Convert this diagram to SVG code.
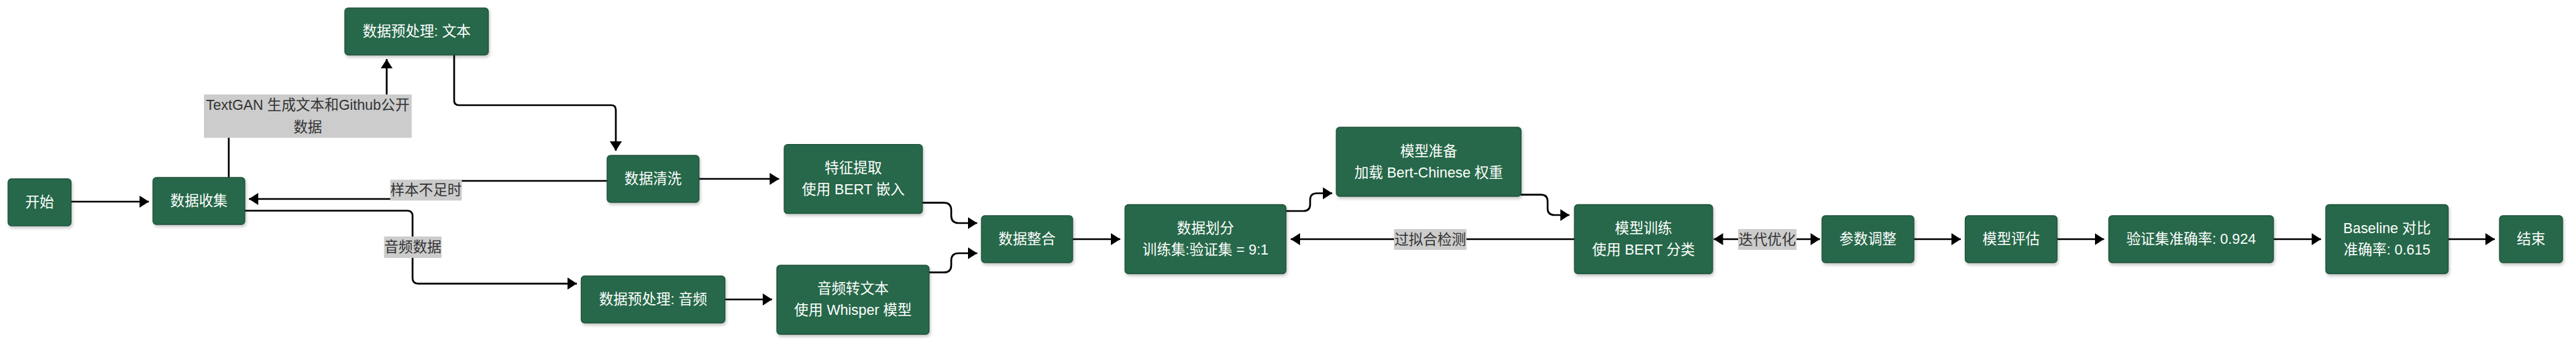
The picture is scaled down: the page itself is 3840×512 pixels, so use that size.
<svg xmlns="http://www.w3.org/2000/svg" width="3840" height="512" viewBox="0 0 3840 512">
<style>
.node rect{fill:#276749;stroke:#1f5139;stroke-width:1.3;filter:url(#sh)}
.node text{fill:#ffffff;font-family:"Liberation Sans","Noto Sans CJK SC",sans-serif;font-size:21.33px;text-anchor:middle;dominant-baseline:central}
.edges path{fill:none;stroke:#000;stroke-width:2.67}
.lbl rect{fill:#cccccc}
.lbl text{fill:#333333;font-family:"Liberation Sans","Noto Sans CJK SC",sans-serif;font-size:21.33px;text-anchor:middle;dominant-baseline:central}
</style>
<defs>
<filter id="sh" x="-10%" y="-10%" width="130%" height="140%">
<feDropShadow dx="1.5" dy="3" stdDeviation="2" flood-color="#000" flood-opacity="0.22"/>
</filter>
<marker id="ae" markerUnits="userSpaceOnUse" markerWidth="16" markerHeight="20" refX="14" refY="9" orient="auto">
<path d="M0,0 L14,9 L0,18 z" fill="#000"/>
</marker>
<marker id="as" markerUnits="userSpaceOnUse" markerWidth="16" markerHeight="20" refX="0" refY="9" orient="auto">
<path d="M14,0 L0,9 L14,18 z" fill="#000"/>
</marker>
</defs>
<rect width="3840" height="512" fill="#ffffff"/>
<g class="edges">
<path d="M105.7,301 H222" marker-end="url(#ae)"/>
<path d="M341,265 V180 Q341,174 347,174 H570 Q576.4,174 576.4,168 V88.3" marker-end="url(#ae)"/>
<path d="M677,82 V150 Q677,157 684,157 H911 Q918,157 918,164 V225" marker-end="url(#ae)"/>
<path d="M905,270 H635 V297 H371" marker-end="url(#ae)"/>
<path d="M365,314.5 H607 Q615,314.5 615,322.5 V415.3 Q615,423.3 623,423.3 H860" marker-end="url(#ae)"/>
<path d="M1042,267 H1161.4" marker-end="url(#ae)"/>
<path d="M1080.7,447 H1151" marker-end="url(#ae)"/>
<path d="M1374.6,302.7 H1407 Q1418,302.7 1418,314 V322 Q1418,333 1429,333 H1456.7" marker-end="url(#ae)"/>
<path d="M1385,406.7 H1407 Q1418,406.7 1418,395.7 V389 Q1418,378 1429,378 H1456.7" marker-end="url(#ae)"/>
<path d="M1599,357 H1670" marker-end="url(#ae)"/>
<path d="M1917,315 H1943 Q1953,315 1953,305 V298.5 Q1953,288.5 1963,288.5 H1986" marker-end="url(#ae)"/>
<path d="M2267,290.7 H2297 Q2307,290.7 2307,300.7 V311 Q2307,321 2317,321 H2339.5" marker-end="url(#ae)"/>
<path d="M2347,357 H1924" marker-end="url(#ae)"/>
<path d="M2554.5,357 H2713" marker-start="url(#as)" marker-end="url(#ae)"/>
<path d="M2853,357 H2923" marker-end="url(#ae)"/>
<path d="M3066.5,357 H3136.5" marker-end="url(#ae)"/>
<path d="M3389,357 H3460" marker-end="url(#ae)"/>
<path d="M3649.5,357 H3719" marker-end="url(#ae)"/>
</g>
<g class="lbl" id="edge-labels">
<g><rect x="304" y="141" width="309.7" height="64.7"/><text x="458.8" y="157">TextGAN 生成文本和Github公开</text><text x="458.8" y="190">数据</text></g>
<g><rect x="581.7" y="268.3" width="106.7" height="31"/><text x="635" y="284">样本不足时</text></g>
<g><rect x="572.5" y="353" width="85.8" height="32"/><text x="615.4" y="369">音频数据</text></g>
<g><rect x="2078" y="342" width="108" height="31"/><text x="2132" y="357.5">过拟合检测</text></g>
<g><rect x="2591" y="342" width="87" height="31"/><text x="2634.5" y="357.5">迭代优化</text></g>
</g>
<g class="node" id="n-start"><rect x="12" y="267" width="94" height="70" rx="5"/><text x="59" y="302">开始</text></g>
<g class="node" id="n-collect"><rect x="228" y="265" width="137" height="70" rx="5"/><text x="296.5" y="300">数据收集</text></g>
<g class="node" id="n-pretext"><rect x="514" y="12" width="214" height="70" rx="5"/><text x="621" y="47">数据预处理: 文本</text></g>
<g class="node" id="n-clean"><rect x="905" y="232" width="137" height="70" rx="5"/><text x="973.5" y="267">数据清洗</text></g>
<g class="node" id="n-feat"><rect x="1169" y="215.7" width="206" height="103" rx="5"/><text x="1272" y="251">特征提取</text><text x="1272" y="283">使用 BERT 嵌入</text></g>
<g class="node" id="n-preaudio"><rect x="866.4" y="412" width="214.3" height="70" rx="5"/><text x="973.5" y="447">数据预处理: 音频</text></g>
<g class="node" id="n-asr"><rect x="1158" y="396" width="227" height="103" rx="5"/><text x="1271.5" y="431">音频转文本</text><text x="1271.5" y="463">使用 Whisper 模型</text></g>
<g class="node" id="n-merge"><rect x="1463" y="322" width="136" height="70" rx="5"/><text x="1531" y="357">数据整合</text></g>
<g class="node" id="n-split"><rect x="1677" y="305.5" width="240" height="103" rx="5"/><text x="1797" y="341">数据划分</text><text x="1797" y="373">训练集:验证集 = 9:1</text></g>
<g class="node" id="n-prep"><rect x="1992" y="190" width="275.5" height="103" rx="5"/><text x="2129.8" y="225.5">模型准备</text><text x="2129.8" y="257.5">加载 Bert-Chinese 权重</text></g>
<g class="node" id="n-train"><rect x="2347" y="305.5" width="206" height="103" rx="5"/><text x="2450" y="341">模型训练</text><text x="2450" y="373">使用 BERT 分类</text></g>
<g class="node" id="n-tune"><rect x="2716" y="322" width="137" height="70" rx="5"/><text x="2784.5" y="357">参数调整</text></g>
<g class="node" id="n-eval"><rect x="2929.5" y="322" width="137" height="70" rx="5"/><text x="2998" y="357">模型评估</text></g>
<g class="node" id="n-acc"><rect x="3143.5" y="322" width="245.5" height="70" rx="5"/><text x="3266.3" y="357">验证集准确率: 0.924</text></g>
<g class="node" id="n-base"><rect x="3467" y="305.5" width="182.5" height="103" rx="5"/><text x="3558.3" y="341">Baseline 对比</text><text x="3558.3" y="373">准确率: 0.615</text></g>
<g class="node" id="n-end"><rect x="3726" y="322" width="94" height="70" rx="5"/><text x="3773" y="357">结束</text></g>
</svg>
